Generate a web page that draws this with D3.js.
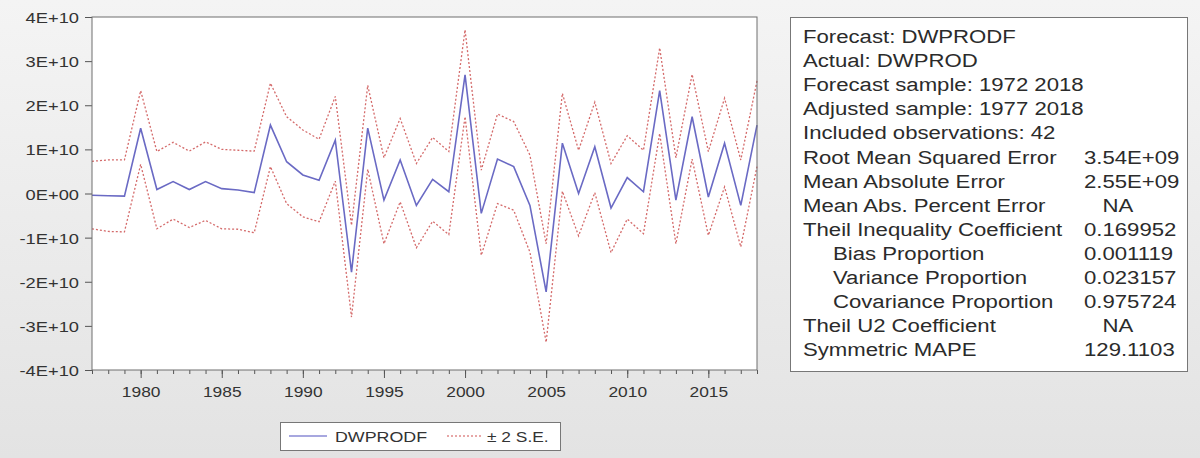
<!DOCTYPE html>
<html>
<head>
<meta charset="utf-8">
<script src="https://cdn.jsdelivr.net/npm/d3@7"></script>
<style>
  html, body { margin: 0; padding: 0; background: #ececec; }
  svg { display: block; }
  text { font-family: "Liberation Sans", Arial, sans-serif; fill: #333; }
</style>
</head>
<body>
<svg id="chart" width="1200" height="458"></svg>
<script>
// Forecast years
const years = [1977, 1978, 1979, 1980, 1981, 1982, 1983, 1984, 1985, 1986,
               1987, 1988, 1989, 1990, 1991, 1992, 1993, 1994, 1995, 1996,
               1997, 1998, 1999, 2000, 2001, 2002, 2003, 2004, 2005, 2006,
               2007, 2008, 2009, 2010, 2011, 2012, 2013, 2014, 2015, 2016,
               2017, 2018];

// DWPRODF forecast, in units of 1E+10
const forecast = [-0.04, -0.05, -0.06, 1.48, 0.09, 0.27, 0.09, 0.27, 0.11, 0.08,
                  0.02, 1.55, 0.72, 0.42, 0.30, 1.21, -1.78, 1.48, -0.15, 0.76,
                  -0.27, 0.32, 0.04, 2.69, -0.45, 0.78, 0.61, -0.27, -2.23, 1.14,
                  0.00, 1.06, -0.33, 0.36, 0.04, 2.33, -0.15, 1.74, -0.08, 1.14,
                  -0.27, 1.55];

// Upper band (+2 S.E.), in units of 1E+10
const upper = [0.73, 0.76, 0.76, 2.33, 0.95, 1.16, 0.96, 1.17, 1.00, 0.98,
               0.96, 2.50, 1.74, 1.44, 1.23, 2.20, -0.72, 2.45, 0.81, 1.70,
               0.68, 1.27, 0.95, 3.71, 0.53, 1.80, 1.63, 0.87, -1.14, 2.27,
               0.98, 2.07, 0.68, 1.31, 0.98, 3.30, 0.81, 2.70, 0.95, 2.16,
               0.76, 2.55];

// Lower band (-2 S.E.), in units of 1E+10
const lower = [-0.80, -0.86, -0.87, 0.66, -0.80, -0.58, -0.77, -0.61, -0.80, -0.81,
               -0.89, 0.61, -0.23, -0.53, -0.64, 0.28, -2.80, 0.55, -1.14, -0.19,
               -1.23, -0.63, -0.93, 1.74, -1.40, -0.23, -0.38, -1.33, -3.37, 0.05,
               -0.96, 0.02, -1.34, -0.58, -0.91, 1.36, -1.14, 0.78, -0.95, 0.15,
               -1.21, 0.61];

const unit = 1e10;

// Axis ticks
const yTickValues = [-4, -3, -2, -1, 0, 1, 2, 3, 4];
const yTickLabels = ["-4E+10", "-3E+10", "-2E+10", "-1E+10", "0E+00",
                     "1E+10", "2E+10", "3E+10", "4E+10"];
const xMajorTicks = [1980, 1985, 1990, 1995, 2000, 2005, 2010, 2015];

// Legend entries
const legendLabels = ["DWPRODF", "\u00b1 2 S.E."];

// Forecast evaluation table
const statLabels = [
  "Forecast: DWPRODF",
  "Actual: DWPROD",
  "Forecast sample: 1972 2018",
  "Adjusted sample: 1977 2018",
  "Included observations: 42",
  "Root Mean Squared Error",
  "Mean Absolute Error",
  "Mean Abs. Percent Error",
  "Theil Inequality Coefficient",
  "Bias Proportion",
  "Variance Proportion",
  "Covariance Proportion",
  "Theil U2 Coefficient",
  "Symmetric MAPE"
];
const statValues = ["", "", "", "", "", "3.54E+09", "2.55E+09", "NA", "0.169952",
                    "0.001119", "0.023157", "0.975724", "NA", "129.1103"];
const statIndented = [false, false, false, false, false, false, false, false, false,
                      true, true, true, false, false];

const svg = d3.select("#chart");

// Soft grey window background
const defs = svg.append("defs");
const grad = defs.append("linearGradient")
  .attr("id", "bg").attr("x1", 0).attr("y1", 0).attr("x2", 0).attr("y2", 1);
grad.append("stop").attr("offset", "0%").attr("stop-color", "#f4f4f4");
grad.append("stop").attr("offset", "100%").attr("stop-color", "#e3e3e3");
svg.append("rect").attr("width", 1200).attr("height", 458).attr("fill", "url(#bg)");

// Widen a text element horizontally, keeping its anchor point
function widen(sel, k, anchor) {
  sel.each(function () {
    const t = d3.select(this);
    const w = this.getComputedTextLength();
    const x0 = +t.attr("x");
    let xs = x0;
    if (anchor === "end") xs = x0 - w * k;
    else if (anchor === "middle") xs = x0 - w * k / 2;
    t.attr("text-anchor", "start")
     .attr("x", xs)
     .attr("textLength", w * k)
     .attr("lengthAdjust", "spacingAndGlyphs");
  });
}

const plot = { left: 92, right: 757, top: 17, bottom: 370 };

const x = d3.scaleLinear().domain([1977, 2018]).range([plot.left, plot.right]);
const y = d3.scaleLinear().domain([-4 * unit, 4 * unit]).range([plot.bottom, plot.top]);

// Plot area
svg.append("rect")
  .attr("x", plot.left).attr("y", plot.top)
  .attr("width", plot.right - plot.left).attr("height", plot.bottom - plot.top)
  .attr("fill", "#ffffff");

// Y axis
const yAxis = d3.axisLeft(y)
  .tickValues(yTickValues.map(v => v * unit))
  .tickSize(7)
  .tickFormat((d, i) => yTickLabels[i]);
const gy = svg.append("g").attr("transform", `translate(${plot.left},0)`).call(yAxis);
gy.select(".domain").remove();
gy.selectAll(".tick line").attr("stroke", "#555");
gy.selectAll(".tick text")
  .attr("x", -13).attr("dy", "0.36em")
  .style("font-size", "15.5px").style("fill", "#333").style("font-family", "'Liberation Sans', Arial, sans-serif")
  .call(widen, 1.18, "end");

// X axis: yearly minor ticks, five-year labelled ticks
const xMinor = d3.axisBottom(x).tickValues(years).tickSize(4).tickFormat("");
const gxm = svg.append("g").attr("transform", `translate(0,${plot.bottom})`).call(xMinor);
gxm.select(".domain").remove();
gxm.selectAll(".tick line").attr("stroke", "#555");

const xAxis = d3.axisBottom(x).tickValues(xMajorTicks).tickSize(8).tickFormat(d3.format("d"));
const gx = svg.append("g").attr("transform", `translate(0,${plot.bottom})`).call(xAxis);
gx.select(".domain").remove();
gx.selectAll(".tick line").attr("stroke", "#555");
gx.selectAll(".tick text")
  .attr("y", 27).attr("dy", 0)
  .style("font-size", "15.5px").style("fill", "#333").style("font-family", "'Liberation Sans', Arial, sans-serif")
  .call(widen, 1.12, "middle");

// Series
const pts = arr => years.map((yr, i) => [x(yr), y(arr[i] * unit)]);
const line = d3.line();

svg.append("path").attr("d", line(pts(upper)))
  .attr("fill", "none").attr("stroke", "#d46a6a").attr("stroke-width", 1.3)
  .attr("stroke-dasharray", "2,2");
svg.append("path").attr("d", line(pts(lower)))
  .attr("fill", "none").attr("stroke", "#d46a6a").attr("stroke-width", 1.3)
  .attr("stroke-dasharray", "2,2");
svg.append("path").attr("d", line(pts(forecast)))
  .attr("fill", "none").attr("stroke", "#6a6ac4").attr("stroke-width", 1.6)
  .attr("stroke-linejoin", "miter");

// Plot frame
svg.append("rect")
  .attr("x", plot.left).attr("y", plot.top)
  .attr("width", plot.right - plot.left).attr("height", plot.bottom - plot.top)
  .attr("fill", "none").attr("stroke", "#6e6e6e").attr("stroke-width", 1);

// Legend
const lg = svg.append("g");
lg.append("rect").attr("x", 280.5).attr("y", 422.5).attr("width", 280).attr("height", 28)
  .attr("fill", "#ffffff").attr("stroke", "#777");
lg.append("line").attr("x1", 289).attr("x2", 327).attr("y1", 436).attr("y2", 436)
  .attr("stroke", "#8a8ad4").attr("stroke-width", 1.6);
lg.append("line").attr("x1", 447).attr("x2", 481).attr("y1", 436).attr("y2", 436)
  .attr("stroke", "#e08a8a").attr("stroke-width", 1.3).attr("stroke-dasharray", "2,2");
lg.append("text").attr("x", 335).attr("y", 442).text(legendLabels[0])
  .style("font-size", "15.5px").call(widen, 1.15, "start");
lg.append("text").attr("x", 487).attr("y", 442).text(legendLabels[1])
  .style("font-size", "15.5px").call(widen, 1.12, "start");

// Statistics table
const box = svg.append("g");
box.append("rect").attr("x", 790.5).attr("y", 17.5).attr("width", 397).attr("height", 354)
  .attr("fill", "#ffffff").attr("stroke", "#777");

const statRows = statLabels.map((label, i) => ({
  label, value: statValues[i], indent: statIndented[i], row: i
}));
const rowY = i => 43 + i * 24.1;

box.selectAll("text.stat-label").data(statRows).join("text")
  .attr("class", "stat-label")
  .attr("x", d => d.indent ? 833 : 803)
  .attr("y", d => rowY(d.row))
  .style("font-size", "18px").style("fill", "#2b2b2b")
  .text(d => d.label)
  .call(widen, 1.23, "start");

box.selectAll("text.stat-value").data(statRows.filter(d => d.value !== "")).join("text")
  .attr("class", "stat-value")
  .attr("x", d => d.value === "NA" ? 1118 : 1084)
  .attr("y", d => rowY(d.row))
  .style("font-size", "18px").style("fill", "#2b2b2b")
  .text(d => d.value)
  .each(function (d) {
    d3.select(this).call(widen, 1.23, d.value === "NA" ? "middle" : "start");
  });
</script>
</body>
</html>
